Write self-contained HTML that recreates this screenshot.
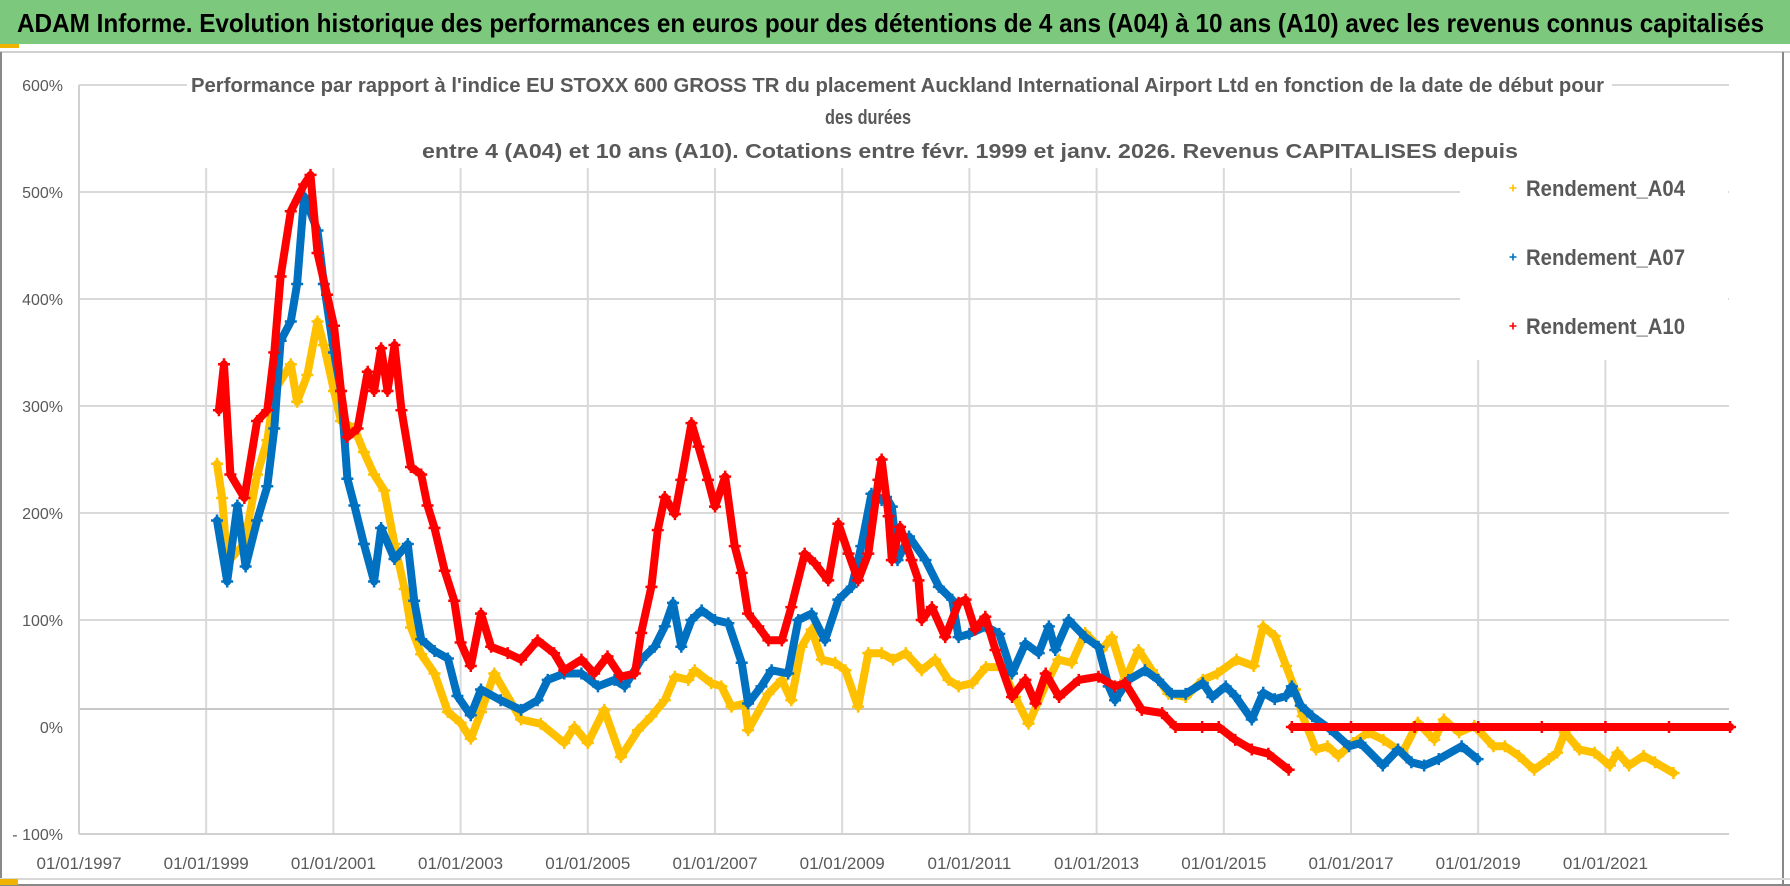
<!DOCTYPE html>
<html><head><meta charset="utf-8"><style>
html,body{margin:0;padding:0;background:#fff;}
svg{display:block;}
text{font-family:"Liberation Sans",sans-serif;}
</style></head><body>
<svg id="chart" width="1790" height="886" viewBox="0 0 1790 886" xmlns="http://www.w3.org/2000/svg">
<rect x="0" y="0" width="1790" height="886" fill="#fff"/>
<rect x="0" y="0" width="1790" height="44" fill="#7cc87c"/>
<text x="17" y="32" font-size="26" font-weight="bold" fill="#000" textLength="1747" lengthAdjust="spacingAndGlyphs">ADAM Informe. Evolution historique des performances en euros pour des détentions de 4 ans (A04) à 10 ans (A10) avec les revenus connus capitalisés</text>
<rect x="0" y="44" width="19" height="4" fill="#f0b400"/>
<line x1="0" y1="52" x2="1790" y2="52" stroke="#d0d0d0" stroke-width="2"/>
<line x1="1" y1="52" x2="1" y2="886" stroke="#888" stroke-width="2"/>
<line x1="1783" y1="52" x2="1783" y2="886" stroke="#888" stroke-width="2"/>
<line x1="0" y1="879" x2="1790" y2="879" stroke="#d8d8d8" stroke-width="2"/>
<line x1="0" y1="885" x2="1790" y2="885" stroke="#888" stroke-width="2"/>
<rect x="0" y="879" width="18" height="6" fill="#f0b400"/>
<g id="grid"></g>
<g id="axes"></g>
<g id="series"></g>
<g id="legend">
<rect x="1460" y="154" width="268" height="206" fill="#fff"/>
</g>
<rect x="187" y="68" width="1425" height="100" fill="#fff"/>
<text x="191" y="92" font-size="20" font-weight="bold" fill="#595959" textLength="1413" lengthAdjust="spacingAndGlyphs">Performance par rapport à l'indice EU STOXX 600 GROSS TR  du placement Auckland International Airport Ltd en fonction de la date de début pour</text>
<text x="825" y="124" font-size="20" font-weight="bold" fill="#595959" textLength="86" lengthAdjust="spacingAndGlyphs">des durées</text>
<text x="422" y="158" font-size="20" font-weight="bold" fill="#595959" textLength="1096" lengthAdjust="spacingAndGlyphs">entre 4 (A04) et 10 ans (A10). Cotations entre févr. 1999 et janv. 2026. Revenus CAPITALISES depuis</text>
</svg>
<script>
const yTickValues = [600, 500, 400, 300, 200, 100, 0, -100];
const yTickLabels = ["600%", "500%", "400%", "300%", "200%", "100%", "0%", "- 100%"];
const xTickYears = [1997, 1999, 2001, 2003, 2005, 2007, 2009, 2011, 2013, 2015, 2017, 2019, 2021];
const xTickLabels = ["01/01/1997","01/01/1999","01/01/2001","01/01/2003","01/01/2005","01/01/2007","01/01/2009","01/01/2011","01/01/2013","01/01/2015","01/01/2017","01/01/2019","01/01/2021"];
const seriesNames = ["Rendement_A04", "Rendement_A07", "Rendement_A10"];

const a04Years = [1999.17,1999.25,1999.33,1999.6,1999.8,1999.96,2000.07,2000.33,2000.43,2000.59,2000.75,2000.85,2001.01,2001.12,2001.33,2001.48,2001.64,2001.8,2001.96,2002.12,2002.22,2002.38,2002.59,2002.8,2003.0,2003.16,2003.32,2003.53,2003.95,2004.26,2004.63,2004.79,2005.0,2005.26,2005.52,2005.79,2006.0,2006.21,2006.37,2006.58,2006.68,2006.94,2007.1,2007.26,2007.47,2007.52,2007.84,2008.05,2008.2,2008.36,2008.52,2008.68,2008.89,2009.05,2009.25,2009.41,2009.62,2009.8,2010.0,2010.25,2010.46,2010.67,2010.83,2011.05,2011.26,2011.51,2011.72,2011.93,2012.19,2012.4,2012.61,2012.82,2013.08,2013.24,2013.45,2013.66,2013.87,2014.13,2014.4,2014.67,2014.9,2015.2,2015.47,2015.62,2015.8,2015.98,2016.12,2016.24,2016.45,2016.63,2016.8,2017.03,2017.27,2017.51,2017.81,2018.05,2018.31,2018.46,2018.7,2018.94,2019.24,2019.42,2019.64,2019.88,2020.11,2020.24,2020.36,2020.59,2020.83,2021.07,2021.19,2021.37,2021.6,2021.78,2022.07];
const a04Values = [246,214,154,171,236,268,314,339,304,329,379,357,314,286,279,257,236,221,171,129,93,68,50,14,4,-11,14,50,7,3,-15,0,-15,16,-28,-3,10,25,47,44,53,41,38,19,22,-3,31,44,25,75,91,63,60,53,19,69,69,63,69,53,63,44,38,41,56,56,28,3,38,63,60,88,72,84,44,72,53,31,28,44,50,63,57,94,85,57,35,10,-21,-18,-27,-15,-5,-12,-24,4,-12,7,-5,1,-18,-18,-27,-40,-30,-24,-5,-21,-24,-36,-24,-36,-27,-33,-43,-32];

const a07Years = [1999.17,1999.33,1999.49,1999.62,1999.8,1999.96,2000.07,2000.17,2000.33,2000.43,2000.54,2000.75,2000.85,2001.01,2001.12,2001.22,2001.33,2001.48,2001.64,2001.75,2001.96,2002.17,2002.27,2002.38,2002.59,2002.8,2002.95,2003.16,2003.32,2003.63,2003.95,2004.21,2004.37,2004.63,2004.9,2005.16,2005.42,2005.58,2005.84,2006.05,2006.21,2006.34,2006.47,2006.63,2006.79,2007.0,2007.21,2007.42,2007.52,2007.73,2007.89,2008.15,2008.31,2008.52,2008.73,2008.94,2009.15,2009.3,2009.46,2009.62,2009.69,2009.78,2009.87,2010.05,2010.31,2010.52,2010.73,2010.83,2011.0,2011.26,2011.47,2011.67,2011.88,2012.09,2012.25,2012.35,2012.56,2012.82,2013.03,2013.19,2013.29,2013.5,2013.76,2013.97,2014.18,2014.4,2014.67,2014.82,2015.03,2015.18,2015.44,2015.62,2015.8,2015.98,2016.07,2016.21,2016.39,2016.67,2016.97,2017.15,2017.5,2017.74,2017.95,2018.15,2018.38,2018.74,2018.99];
const a07Values = [193,136,207,150,193,225,279,361,379,414,496,464,414,350,314,232,207,171,136,186,157,171,118,82,71,64,29,11,35,25,16,25,44,50,50,38,44,38,63,75,94,116,75,100,109,100,97,60,22,38,53,50,100,106,81,119,131,169,218,212,215,206,156,178,156,131,119,84,87,94,87,50,78,69,94,72,100,84,75,38,25,44,53,44,31,31,41,28,38,29,7,32,26,29,38,20,10,-2,-18,-15,-36,-21,-33,-36,-30,-18,-30,-40,-46,-52];

const a10Years = [1999.2,1999.28,1999.38,1999.6,1999.8,1999.96,2000.07,2000.17,2000.33,2000.54,2000.64,2000.75,2000.9,2001.01,2001.12,2001.22,2001.38,2001.54,2001.64,2001.75,2001.85,2001.96,2002.07,2002.22,2002.38,2002.48,2002.59,2002.75,2002.9,2003.0,2003.16,2003.32,2003.48,2003.74,2003.95,2004.21,2004.47,2004.63,2004.9,2005.1,2005.31,2005.52,2005.74,2005.84,2006.0,2006.1,2006.21,2006.37,2006.47,2006.63,2006.74,2006.89,2007.0,2007.16,2007.31,2007.42,2007.52,2007.68,2007.84,2008.05,2008.2,2008.41,2008.57,2008.78,2008.94,2009.1,2009.25,2009.41,2009.57,2009.62,2009.73,2009.78,2009.91,2010.09,2010.2,2010.25,2010.41,2010.62,2010.83,2010.94,2011.09,2011.25,2011.41,2011.67,2011.88,2012.04,2012.2,2012.41,2012.72,2013.03,2013.29,2013.45,2013.71,2014.03,2014.24,2014.66,2014.92,2015.18,2015.44,2015.7,2016.02,null,2016.07,2017.0,2018.0,2019.0,2020.0,2021.0,2022.0,2022.96];
const a10Values = [296,339,236,214,286,296,350,421,482,507,516,443,404,375,314,271,279,332,314,354,314,357,296,243,236,207,186,146,118,79,57,106,75,69,63,81,69,53,63,50,66,47,50,88,131,184,215,199,231,284,262,231,206,234,169,144,106,94,81,81,112,162,153,137,190,162,137,162,231,250,197,156,187,156,137,100,112,84,116,119,91,103,72,28,44,22,50,28,44,47,38,41,16,13,0,0,0,-12,-21,-25,-40,null,0,0,0,0,0,0,0,0];

const seriesYears = [a04Years, a07Years, a10Years];
const seriesValues = [a04Values, a07Values, a10Values];
const seriesColors = ["#FFC000", "#0070C0", "#FF0000"];

const X0 = 79, Y0 = 727, PX_PER_YEAR = 63.6, PX_PER_PCT = 1.07, X_END = 1729;
function xScale(year) { return X0 + (year - 1997) * PX_PER_YEAR; }
function yScale(v) { return Y0 - v * PX_PER_PCT; }

const NS = "http://www.w3.org/2000/svg";
function mk(tag, attrs, parent) {
  const el = document.createElementNS(NS, tag);
  for (const k in attrs) el.setAttribute(k, attrs[k]);
  parent.appendChild(el);
  return el;
}
const grid = document.getElementById("grid");
const axes = document.getElementById("axes");
const seriesG = document.getElementById("series");
const legend = document.getElementById("legend");

yTickValues.forEach((v, i) => {
  if (v !== 0 && v !== -100) {
    const gl = mk("line", {x1: X0, x2: X_END, y1: yScale(v), y2: yScale(v), stroke: "#d9d9d9", "stroke-width": 2}, grid);
    
    
  }
  const t = mk("text", {x: 63, y: yScale(v) + 6, "text-anchor": "end", "font-size": 16, fill: "#595959"}, axes);
  t.textContent = yTickLabels[i];
  
  
});
xTickYears.forEach((yr, i) => {
  if (i > 0) {
    const gl = mk("line", {x1: xScale(yr), x2: xScale(yr), y1: yScale(600), y2: yScale(-100), stroke: "#d9d9d9", "stroke-width": 2}, grid);
    
    
  }
  const t = mk("text", {x: xScale(yr), y: 869, "text-anchor": "middle", "font-size": 17, fill: "#595959"}, axes);
  t.textContent = xTickLabels[i];
  
  
});
const topLine = mk("line", {x1: X0, x2: X_END, y1: yScale(600), y2: yScale(600), stroke: "#d9d9d9", "stroke-width": 2}, grid);


const refLine = mk("line", {x1: X0, x2: X_END, y1: 709, y2: 709, stroke: "#c8c8c8", "stroke-width": 2}, grid);


const yAxis = mk("line", {x1: X0, x2: X0, y1: yScale(600), y2: yScale(-100), stroke: "#d0d0d0", "stroke-width": 2}, axes);


const xAxis = mk("line", {x1: X0, x2: X_END, y1: yScale(-100), y2: yScale(-100), stroke: "#d0d0d0", "stroke-width": 2}, axes);



function plus(parent, x, y, color, s, w) {
  return mk("path", {d: `M${x - s} ${y}H${x + s}M${x} ${y - s}V${y + s}`, stroke: color, "stroke-width": w, fill: "none"}, parent);
}

seriesNames.forEach((name, si) => {
  const g = mk("g", {}, seriesG);
  
  
  const yrs = seriesYears[si], vals = seriesValues[si], col = seriesColors[si];
  let segs = [], cur = [];
  yrs.forEach((yr, i) => {
    if (yr === null || vals[i] === null) { if (cur.length) segs.push(cur); cur = []; return; }
    cur.push([xScale(yr), yScale(vals[i])]);
  });
  if (cur.length) segs.push(cur);
  segs.forEach(seg => {
    const pl = mk("polyline", {points: seg.map(p => p[0].toFixed(1) + "," + p[1].toFixed(1)).join(" "), fill: "none", stroke: col, "stroke-width": 8, "stroke-linejoin": "round", "stroke-linecap": "round"}, g);
    
    
  });
  yrs.forEach((yr, i) => {
    if (yr === null || vals[i] === null) return;
    const m = plus(g, xScale(yr), yScale(vals[i]), col, 6, 2.5);
    
    
  });
});

const legendY = [188, 257, 326];
seriesNames.forEach((name, i) => {
  const m = plus(legend, 1513, legendY[i], seriesColors[i], 3.5, 1.6);
  
  
  const t = mk("text", {x: 1526, y: legendY[i] + 8, "font-size": 22, "font-weight": "bold", fill: "#595959", textLength: 159, lengthAdjust: "spacingAndGlyphs"}, legend);
  t.textContent = name;
  
  
});
</script>
</body></html>
